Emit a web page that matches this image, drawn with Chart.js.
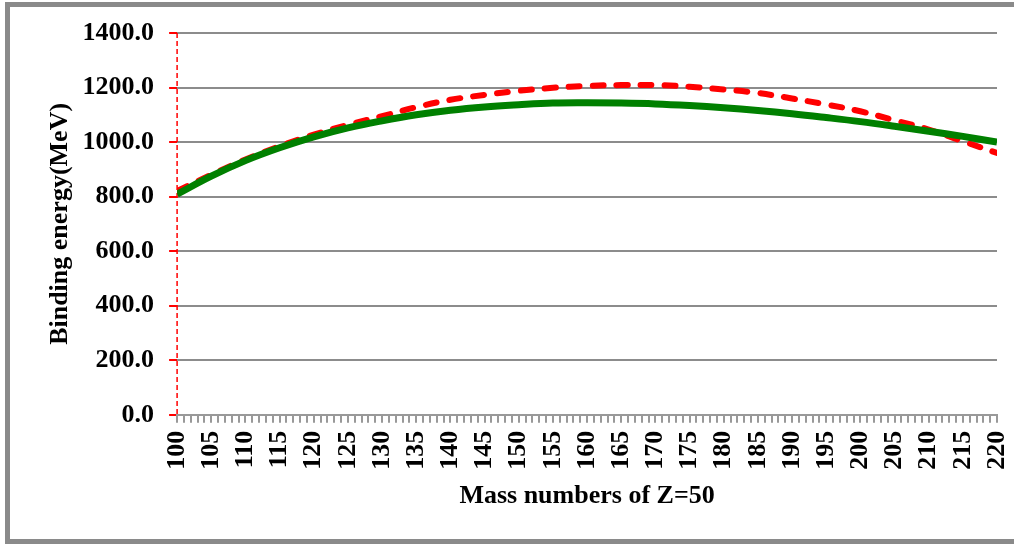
<!DOCTYPE html>
<html>
<head>
<meta charset="utf-8">
<script src="https://cdn.jsdelivr.net/npm/chart.js@4.4.1/dist/chart.umd.min.js"></script>
<style>
  body { margin: 0; background: #fff; }
  #wrap { position: absolute; left: 0; top: 0; width: 1014px; height: 544px; }
  #frame { position: absolute; left: 5px; top: 2px; width: 1014px; height: 542px;
           border: 5px solid #8a8a8a; box-sizing: border-box; pointer-events: none; }
</style>
</head>
<body>
<div id="wrap"><canvas id="myChart"></canvas></div>
<div id="frame"></div>
<script>
// mass numbers A (Z = 50)
const massNumbers = [100, 105, 110, 115, 120, 125, 130, 135, 140, 145, 150, 155, 160,
                     165, 170, 175, 180, 185, 190, 195, 200, 205, 210, 215, 220];

// green solid curve
const energyGreen = [809, 875, 932, 979, 1019, 1052, 1078, 1100, 1117, 1129, 1137, 1143, 1144,
                     1143, 1140, 1134, 1126, 1116, 1104, 1090, 1075, 1058, 1040, 1021, 1000];

// red dashed curve
const energyRed = [821, 880, 936, 985, 1027, 1063, 1095, 1128, 1155, 1173, 1188, 1199, 1206,
                   1209, 1209, 1203, 1193, 1180, 1160, 1138, 1113, 1080, 1046, 1003, 960];

const yTicks = [0, 200, 400, 600, 800, 1000, 1200, 1400];

function pts(ys) {
  return massNumbers.map(function(a, i) { return { x: a, y: ys[i] }; });
}

const font = 'Liberation Serif, "Times New Roman", serif';

// red dotted line along the value axis
const redAxis = {
  id: 'redAxis',
  beforeDatasetsDraw: function(chart) {
    const a = chart.chartArea, ctx = chart.ctx;
    ctx.save();
    ctx.strokeStyle = '#ff0000';
    ctx.lineWidth = 1.5;
    ctx.setLineDash([5, 3]);
    ctx.beginPath();
    ctx.moveTo(a.left, a.top);
    ctx.lineTo(a.left, a.bottom);
    ctx.stroke();
    ctx.restore();
  }
};

const data = {
  datasets: [{
    label: 'green',
    data: pts(energyGreen),
    borderColor: '#008000',
    borderWidth: 7,
    pointRadius: 0,
    tension: 0.4,
    fill: false
  }, {
    label: 'red',
    data: pts(energyRed),
    borderColor: '#ff0000',
    borderWidth: 6,
    borderDash: [11, 13],
    borderCapStyle: 'round',
    pointRadius: 0,
    tension: 0.4,
    fill: false
  }]
};

const config = {
  type: 'line',
  data: data,
  plugins: [redAxis],
  options: {
    responsive: true,
    maintainAspectRatio: false,
    animation: false,
    layout: { padding: { left: 52, top: 33, right: 17, bottom: 32 } },
    plugins: { legend: { display: false }, tooltip: { enabled: false } },
    scales: {
      x: {
        type: 'linear',
        min: 100,
        max: 220,
        border: { color: '#999', width: 2 },
        grid: { drawOnChartArea: false, color: '#999', lineWidth: 2, tickLength: 8 },
        afterFit: function(axis) { axis.paddingLeft = 0; axis.paddingRight = 0; },
        ticks: {
          stepSize: 1,
          autoSkip: false,
          minRotation: 90,
          maxRotation: 90,
          padding: 8,
          color: '#000',
          font: { family: font, size: 26, weight: 'bold' },
          callback: function(v) { return v % 5 === 0 ? String(v) : ''; }
        },
        title: {
          display: true,
          text: 'Mass numbers of Z=50',
          color: '#000',
          padding: { top: 3, bottom: 0 },
          font: { family: font, size: 26, weight: 'bold' }
        }
      },
      y: {
        min: 0,
        max: 1400,
        border: { display: false },
        grid: { color: '#8c8c8c', lineWidth: 2, tickColor: '#ff0000', tickLength: 8 },
        afterFit: function(axis) { axis.paddingTop = 0; axis.paddingBottom = 0; },
        afterBuildTicks: function(axis) { axis.ticks = yTicks.map(function(v) { return { value: v }; }); },
        ticks: {
          padding: 15,
          color: '#000',
          font: { family: font, size: 26, weight: 'bold' },
          callback: function(v) { return Number(v).toFixed(1); }
        },
        title: {
          display: true,
          text: 'Binding energy(MeV)',
          color: '#000',
          padding: 0,
          font: { family: font, size: 26, weight: 'bold', lineHeight: 0.6 }
        }
      }
    }
  }
};

const myChart = new Chart(document.getElementById('myChart'), config);
</script>
</body>
</html>
